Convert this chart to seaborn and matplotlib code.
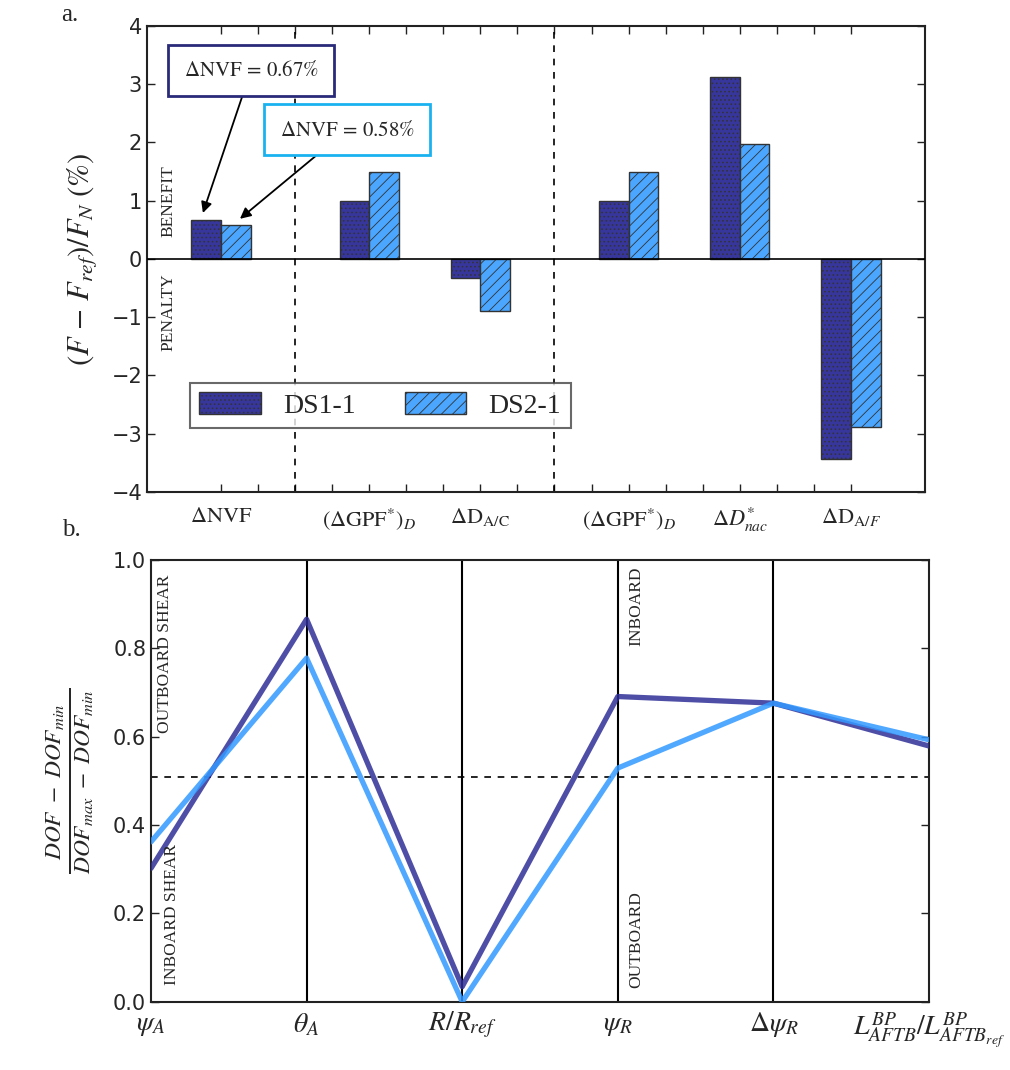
import matplotlib
matplotlib.use("Agg")
import matplotlib.pyplot as plt
import seaborn as sns
import pandas as pd

# ---- panel a: benefit / penalty of each design change ----
bar_labels = [r"$\Delta\mathrm{NVF}$", r"$(\Delta\mathrm{GPF}^{*})_{D}$",
              r"$\Delta\mathrm{D}_{\mathrm{A/C}}$", r"$(\Delta\mathrm{GPF}^{*})_{D}$",
              r"$\Delta D^{*}_{nac}$", r"$\Delta\mathrm{D}_{\mathrm{A}/F}$"]
bar_pos = [2, 6, 9, 13, 16, 19]
ds1_vals = [0.67, 1.0, -0.32, 1.0, 3.12, -3.44]
ds2_vals = [0.58, 1.5, -0.90, 1.5, 1.98, -2.88]
series_names = ["DS1-1", "DS2-1"]
group_split = [4, 11]

# ---- panel b: normalised design variables ----
dof_labels = [r"$\psi_A$", r"$\theta_A$", r"$R/R_{ref}$", r"$\psi_R$",
              r"$\Delta\psi_R$", r"$L^{BP}_{AFTB}/L^{BP}_{AFTB_{ref}}$"]
dof_ds1 = [0.302, 0.866, 0.034, 0.691, 0.676, 0.579]
dof_ds2 = [0.362, 0.778, 0.0, 0.529, 0.676, 0.593]
mid_level = 0.508

sns.set_style("white")
plt.rcParams["mathtext.fontset"] = "stix"
plt.rcParams["font.family"] = ["DejaVu Sans"]
plt.rcParams["hatch.linewidth"] = 0.6

dark = "#36369c"
light = "#4aa6ff"
serif = ["Liberation Serif", "DejaVu Serif"]

fig = plt.figure(figsize=(10.1, 10.7), dpi=100)
ax1 = fig.add_axes([0.1455, 0.5402, 0.7703, 0.4355])
ax2 = fig.add_axes([0.1495, 0.0638, 0.7703, 0.4128])

# bars
df_bar = pd.DataFrame({
    "pos": bar_pos * 2,
    "val": ds1_vals + ds2_vals,
    "series": [series_names[0]] * len(bar_pos) + [series_names[1]] * len(bar_pos),
})
sns.barplot(data=df_bar, x="pos", y="val", hue="series", hue_order=series_names,
            palette=[dark, light], native_scale=True, width=1.6 / 3,
            saturation=1, errorbar=None, edgecolor="#333333", linewidth=1.0,
            legend=False, ax=ax1, zorder=3)
hatches = ["....", "///"]
for cont, h in zip(ax1.containers, hatches):
    for p in cont.patches:
        p.set_hatch(h)

ax1.set_xlim(0, 21)
ax1.set_ylim(-4, 4)
ax1.axhline(0, color="black", lw=1.2, zorder=4)
for xv in group_split:
    ax1.axvline(xv, color="black", lw=1.2, ls=(0, (4, 4)), zorder=2)

ticks = list(range(2, 20))
ax1.set_xticks(ticks)
ax1.set_xticklabels([bar_labels[bar_pos.index(t)] if t in bar_pos else "" for t in ticks],
                    fontsize=16)
ax1.set_yticks(range(-4, 5))
ax1.tick_params(axis="both", direction="in", length=6, width=1, top=True, right=True,
                bottom=True, left=True, color="#222222")
ax1.tick_params(axis="y", labelsize=15)
ax1.tick_params(axis="x", pad=10)
ax1.set_xlabel("")
ax1.set_ylabel(r"$\left(F\,-\,F_{ref}\right)/F_{N}\ (\%)$", fontsize=22, labelpad=8)
for s in ax1.spines.values():
    s.set_linewidth(1.5)
    s.set_color("#222222")
    s.set_visible(True)

ax1.text(0.57, 0.99, "BENEFIT", rotation=90, ha="center", va="center",
         fontsize=12.5, family=serif)
ax1.text(0.57, -0.91, "PENALTY", rotation=90, ha="center", va="center",
         fontsize=12.5, family=serif)

arrow_kw = dict(arrowstyle="-|>", color="black", lw=1.3, mutation_scale=16,
                shrinkA=0, shrinkB=0)
ax1.annotate(r"$\Delta\mathrm{NVF}\,=\,0.67\%$", xy=(1.51, 0.79), xytext=(2.81, 3.24),
             ha="center", va="center", fontsize=15,
             bbox=dict(boxstyle="square,pad=0.75", fc="white", ec="#2a2a7a", lw=2),
             arrowprops=arrow_kw, zorder=6)
ax1.annotate(r"$\Delta\mathrm{NVF}\,=\,0.58\%$", xy=(2.51, 0.69), xytext=(5.41, 2.22),
             ha="center", va="center", fontsize=15,
             bbox=dict(boxstyle="square,pad=0.75", fc="white", ec="#19b2f0", lw=2),
             arrowprops=arrow_kw, zorder=6)

leg = ax1.legend(ax1.containers, series_names, loc="center", ncol=2, mode="expand",
                 bbox_to_anchor=(0.055, 0.129, 0.49, 0.1135), fontsize=20,
                 prop={"family": serif, "size": 20}, frameon=True, fancybox=False,
                 handlelength=2.2, handleheight=0.8, borderaxespad=0, borderpad=0.35)
leg.get_frame().set_edgecolor("#444444")
leg.get_frame().set_linewidth(1.5)
leg.set_zorder(7)

# lines
df_line = pd.DataFrame({
    "pos": list(range(len(dof_labels))) * 2,
    "val": dof_ds1 + dof_ds2,
    "series": [series_names[0]] * len(dof_labels) + [series_names[1]] * len(dof_labels),
})
sns.lineplot(data=df_line, x="pos", y="val", hue="series", hue_order=series_names,
             palette=["#2f2f98", "#3399ff"], lw=3.8, alpha=0.85, legend=False,
             ax=ax2, zorder=3)
ax2.set_xlim(0, len(dof_labels) - 1)
ax2.set_ylim(0, 1)
for xv in range(1, len(dof_labels) - 1):
    ax2.axvline(xv, color="black", lw=1.5, zorder=2)
ax2.axhline(mid_level, color="black", lw=1.2, ls=(0, (4, 4)), zorder=2)
ax2.set_xticks(range(len(dof_labels)))
ax2.set_xticklabels(dof_labels, fontsize=20)
ax2.set_yticks([0, 0.2, 0.4, 0.6, 0.8, 1.0])
ax2.set_yticklabels(["0.0", "0.2", "0.4", "0.6", "0.8", "1.0"])
ax2.tick_params(axis="x", length=0, pad=6)
ax2.tick_params(axis="y", direction="in", length=6, width=1, left=True, right=True,
                labelsize=15, color="#222222")
ax2.set_xlabel("")
ax2.set_ylabel(r"$\frac{DOF\ -\ DOF_{min}}{DOF_{max}\ -\ DOF_{min}}$", fontsize=24,
               labelpad=12)
for s in ax2.spines.values():
    s.set_linewidth(1.5)
    s.set_color("#222222")
    s.set_visible(True)

ax2.text(0.09, 0.967, "OUTBOARD SHEAR", rotation=90, ha="center", va="top",
         fontsize=12.5, family=serif)
ax2.text(0.135, 0.038, "INBOARD SHEAR", rotation=90, ha="center", va="bottom",
         fontsize=12.5, family=serif)
ax2.text(3.117, 0.985, "INBOARD", rotation=90, ha="center", va="top",
         fontsize=12.5, family=serif)
ax2.text(3.117, 0.031, "OUTBOARD", rotation=90, ha="center", va="bottom",
         fontsize=12.5, family=serif)

fig.text(0.069, 0.986, "a.", fontsize=18, family=serif, ha="center", va="center")
fig.text(0.071, 0.505, "b.", fontsize=18, family=serif, ha="center", va="center")

fig.savefig("out.png", dpi=100)
